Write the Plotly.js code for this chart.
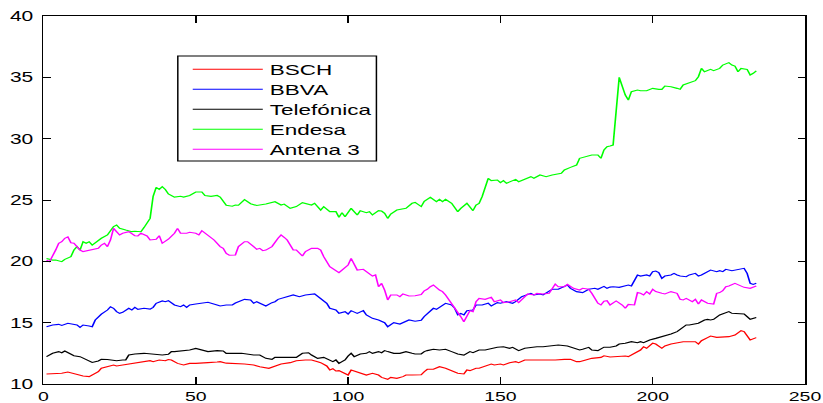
<!DOCTYPE html>
<html>
<head>
<meta charset="utf-8">
<script src="https://cdn.plot.ly/plotly-3.0.1.min.js"></script>
<style>
  html, body { margin: 0; padding: 0; background: #ffffff; overflow: hidden; }
  /* the figure is laid out narrow and widened horizontally, like the original export */
  #chart { width: 549px; height: 403px; transform: scaleX(1.4991); transform-origin: 0 0; }
</style>
</head>
<body>
<div id="chart"></div>
<script>
// Daily closing prices (trading day index -> price)
const bschDay = [1,4,6,8,11,13,15,16,18,19, 21,23,24,26,28,29,31,33,35,36, 38,40,41,42,44,46,48,50,52,54,
  57,58,60,63,66,69,71,74,76,78, 81,83,86,88,90,91,93,94,95,96, 97,99,100,101,103,105,106,108,110,111,
  113,114,116,118,119,121,122,124,125,126, 128,130,132,134,136,138,139,140,142,143, 145,147,148,150,151,153,155,156,158,160,
  162,165,168,171,173,175,176,178,180,183, 184,186,189,191,192,194,196,197,198,200, 201,203,204,206,208,210,212,214,215,216,
  218,219,221,223,225,227,228,229,230,231, 232,234];
const bsch = [10.82,10.87,10.87,10.98,10.8,10.65,10.6,10.73,11.0,11.28, 11.41,11.55,11.47,11.55,11.6,11.68,11.74,11.82,11.9,11.82,
  11.96,11.9,12.0,11.96,11.68,11.55,11.68,11.68,11.68,11.74, 11.79,11.82,11.7,11.68,11.63,11.55,11.41,11.28,11.47,11.63,
  11.74,11.9,11.96,11.96,11.82,11.74,11.47,11.14,11.25,11.06, 11.09,10.87,10.73,11.14,11.0,10.82,10.73,10.87,10.73,10.54,
  10.38,10.54,10.46,10.6,10.73,10.73,10.75,10.75,11.0,11.2, 11.2,11.41,11.28,11.09,10.87,10.82,11.14,11.09,11.28,11.28,
  11.47,11.63,11.55,11.63,11.55,11.74,11.82,11.74,11.96,11.96, 11.9,11.96,11.96,12.01,12.01,11.82,11.82,11.96,12.09,12.17,
  12.3,12.2,12.28,12.28,12.23,12.5,12.77,13.04,12.91,13.32, 13.26,12.91,13.1,13.26,13.37,13.45,13.45,13.45,13.26,13.53,
  13.78,13.91,13.8,13.86,13.86,13.99,14.18,14.35,14.27,13.86, 13.59,13.78];

const bbvaDay = [1,3,5,6,8,10,11,12,13,15, 16,17,19,21,22,23,24,25,26,28, 29,30,31,33,35,36,37,39,40,41,
  42,43,45,46,47,48,50,52,54,57, 58,60,62,63,64,66,68,69,70,72, 73,75,76,77,79,82,84,86,89,91,
  93,94,96,97,99,100,101,103,105,106, 108,110,111,112,113,115,117,118,120,122, 124,125,127,128,129,131,132,134,135,136,
  137,138,139,141,142,144,146,147,149,150, 152,154,155,157,159,160,161,163,164,166, 167,169,171,172,173,175,177,178,179,181,
  182,184,185,186,187,189,190,192,193,195, 196,198,199,200,201,202,203,204,206,207, 208,209,211,212,214,215,216,218,219,221,
  222,223,224,226,227,229,230,231,232,233, 234];
const bbva = [14.67,14.81,14.86,14.78,14.95,14.86,14.81,14.62,14.81,14.73, 14.67,15.22,15.7,16.03,16.3,16.17,15.9,15.76,15.84,16.17,
  16.03,16.25,16.09,16.17,16.11,16.25,16.58,16.77,16.71,16.79, 16.58,16.44,16.3,16.44,16.25,16.44,16.52,16.58,16.66,16.44,
  16.36,16.44,16.44,16.6,16.71,16.9,16.85,16.58,16.71,16.52, 16.36,16.63,16.71,16.9,17.07,17.26,17.12,17.26,17.34,16.98,
  16.58,16.17,16.03,15.76,15.9,15.71,15.98,15.76,15.98,15.63, 15.35,15.22,15.08,15.0,14.67,15.0,14.89,15.0,15.22,15.12,
  15.2,15.5,15.9,16.17,16.09,16.44,16.58,16.44,16.17,15.63, 15.76,15.63,15.98,16.03,16.44,16.44,16.58,16.36,16.63,16.58,
  16.71,16.58,16.71,17.12,17.34,17.39,17.26,17.34,17.26,17.53, 17.72,17.72,17.93,18.07,17.8,17.53,17.45,17.61,17.72,17.8,
  17.72,17.96,17.8,17.9,17.93,17.88,17.93,18.07,17.99,18.89, 18.8,18.89,18.8,19.16,19.21,19.08,18.61,18.8,18.89,19.02,
  18.89,18.8,18.75,18.89,19.02,18.8,18.89,19.16,19.29,19.16, 19.24,19.16,19.35,19.24,19.29,19.35,19.43,19.02,18.21,18.12,
  18.21];

const telefonicaDay = [1,3,5,6,7,9,10,12,14,16, 18,19,21,23,24,26,27,28,30,33, 35,37,39,41,42,43,46,48,50,52,
  54,57,59,60,61,63,65,69,71,73, 75,76,78,81,83,85,87,88,90,92, 94,95,96,97,98,99,100,101,102,104,
  106,107,108,110,111,112,113,115,117,119, 121,122,124,125,126,128,130,132,134,136, 138,140,141,143,145,147,149,151,153,154,
  156,158,160,162,164,166,169,172,174,176, 177,179,180,182,184,186,188,189,191,193, 195,196,197,199,201,202,204,206,208,210,
  211,212,214,215,217,218,219,220,222,224, 225,226,228,230,231,232,234];
const telefonica = [12.23,12.5,12.64,12.55,12.69,12.45,12.31,12.23,12.01,11.76, 11.88,12.01,12.0,11.96,11.9,11.96,11.96,12.36,12.45,12.5,
  12.45,12.42,12.36,12.42,12.64,12.64,12.72,12.77,12.9,12.77, 12.64,12.72,12.69,12.5,12.5,12.5,12.5,12.36,12.36,12.09,
  12.01,12.17,12.17,12.17,12.17,12.5,12.55,12.36,12.09,12.17, 11.9,11.82,11.96,11.68,11.82,11.96,12.28,12.5,12.23,12.45,
  12.5,12.64,12.5,12.64,12.55,12.72,12.64,12.5,12.5,12.64, 12.5,12.45,12.45,12.64,12.72,12.83,12.77,12.83,12.64,12.45,
  12.36,12.64,12.55,12.77,12.77,12.91,12.99,13.04,12.91,12.99, 12.72,12.91,12.99,13.04,13.04,13.1,13.18,13.1,12.91,12.77,
  12.83,12.99,12.77,12.72,13.0,13.0,13.1,13.26,13.32,13.45, 13.37,13.45,13.37,13.59,13.72,13.78,13.91,14.08,14.27,14.67,
  14.81,14.81,14.89,14.95,15.22,15.27,15.22,15.27,15.63,15.82, 15.9,15.76,15.76,15.71,15.49,15.27,15.43];

const endesaDay = [1,3,4,6,7,9,10,11,12,13, 14,15,16,18,19,21,22,23,24,25, 27,29,30,32,33,34,35,36,37,38,
  39,40,41,43,45,46,48,50,52,53, 55,57,58,60,62,63,64,66,68,70, 73,76,78,79,81,83,85,88,89,91,
  92,94,96,97,98,99,101,103,104,106, 107,108,110,111,112,113,114,116,118,119, 121,122,124,125,127,129,130,131,132,134,
  136,137,139,141,142,143,144,145,146,147, 149,150,151,152,154,155,156,159,160,161, 163,165,167,170,171,173,175,176,178,180,
  182,183,184,185,186,187,189,190,191,192, 193,195,196,198,200,202,203,204,206,208, 209,210,212,214,215,216,217,219,220,222,
  223,225,226,227,228,229,231,232,233,234];
const endesa = [20.24,20.1,20.1,19.97,20.16,20.38,20.92,21.2,20.92,21.6, 21.47,21.6,21.33,21.74,21.88,22.15,22.55,22.83,22.96,22.69,
  22.55,22.42,22.45,22.41,22.75,23.1,23.5,25.3,26.03,25.86, 26.08,25.86,25.5,25.24,25.3,25.24,25.37,25.65,25.65,25.37,
  25.3,25.37,25.24,24.57,24.49,24.59,24.57,25.03,24.7,24.55, 24.67,24.86,24.59,24.67,24.32,24.46,24.78,24.59,24.73,24.18,
  24.46,24.05,24.05,23.59,23.97,23.64,24.32,23.78,24.13,23.97, 24.05,23.78,24.13,24.1,23.91,23.5,23.86,24.18,24.27,24.32,
  24.73,24.8,24.46,24.9,25.22,24.86,25.05,24.86,25.05,24.73, 24.05,24.32,24.73,24.13,24.59,24.73,25.27,26.09,26.77,26.58,
  26.63,26.41,26.58,26.36,26.58,26.68,26.49,26.77,26.9,26.77, 27.04,26.9,27.04,27.17,27.45,27.66,27.85,28.4,28.53,28.67,
  28.67,28.4,29.08,29.35,29.4,29.48,35.0,34.24,33.56,33.15, 33.83,33.97,33.91,33.91,34.1,34.02,34.02,34.29,34.24,34.1,
  34.02,34.38,34.57,34.73,35.05,35.73,35.46,35.65,35.54,35.73, 36.0,36.2,36.0,35.92,35.46,35.73,35.65,35.19,35.33,35.52];

const antena3Day = [1,2,4,5,6,7,8,9,10,11, 12,13,15,16,18,19,20,21,22,23, 24,25,26,28,30,31,32,34,35,37,
  38,39,41,42,43,44,45,47,48,50, 51,52,54,56,58,59,60,61,63,64, 66,67,69,70,71,72,73,75,77,78,
  79,80,82,83,85,86,88,90,91,92, 94,95,97,98,100,101,102,103,105,106, 108,109,110,111,112,113,114,116,117,118,
  120,122,124,125,126,127,128,130,131,132, 134,136,137,138,139,140,141,142,143,145, 147,148,150,151,153,155,156,158,159,161,
  162,164,166,168,169,171,172,174,176,177, 179,180,182,183,184,185,186,188,190,191, 192,194,195,196,197,198,199,200,201,203,
  204,206,208,209,210,211,213,214,215,216, 218,220,221,222,223,224,225,227,229,230, 232,234];
const antena3 = [20.1,19.97,20.92,21.47,21.6,21.88,22.0,21.52,21.47,21.2, 20.92,20.79,20.92,20.98,21.06,21.33,21.47,21.2,21.74,22.69,
  22.42,22.15,22.29,22.42,22.09,22.07,22.29,22.07,21.74,21.8, 22.09,21.47,21.8,22.07,22.29,22.69,22.29,22.29,22.37,22.29,
  22.15,22.5,22.15,21.74,21.2,21.06,20.65,20.5,20.52,21.2, 21.6,21.6,21.2,20.98,21.06,20.87,20.92,21.2,21.88,22.15,
  21.96,21.74,20.92,20.92,20.43,20.79,21.06,21.06,20.92,20.38, 19.57,19.43,19.08,19.29,19.7,20.24,19.84,19.29,19.35,19.16,
  18.8,18.89,17.93,18.2,17.66,16.85,17.26,17.26,17.12,17.34, 17.17,17.2,17.3,17.6,17.72,17.93,18.07,17.66,17.53,17.26,
  16.58,15.9,15.49,15.08,15.49,15.98,15.9,16.71,16.98,16.9, 17.07,16.71,16.85,16.63,16.71,16.85,16.63,17.12,17.34,17.26,
  17.39,17.34,17.39,18.15,17.93,17.93,18.12,17.8,17.66,17.8, 17.72,17.39,16.58,16.44,16.75,16.79,16.44,16.77,16.44,16.17,
  16.49,16.44,17.45,17.39,17.26,17.53,17.34,17.72,17.53,17.39, 17.34,17.53,17.39,16.9,16.85,16.98,16.71,16.9,16.52,16.85,
  16.58,16.52,17.39,17.45,17.61,17.93,17.99,18.21,17.99,17.88, 17.8,17.99];

const seriesNames  = ['BSCH', 'BBVA', 'Telefónica', 'Endesa', 'Antena 3'];
const seriesColors = ['#ff0000', '#0000ff', '#000000', '#00ff00', '#ff00ff'];
const seriesDays   = [bschDay, bbvaDay, telefonicaDay, endesaDay, antena3Day];
const seriesValues = [bsch, bbva, telefonica, endesa, antena3];

const xTicks = [0, 50, 100, 150, 200, 250];
const yTicks = [10, 15, 20, 25, 30, 35, 40];

const FONT = 'Liberation Sans, Arial, Helvetica, sans-serif';

const traces = seriesNames.map((name, i) => ({
  type: 'scatter',
  mode: 'lines',
  name: name,
  x: seriesDays[i],
  y: seriesValues[i],
  line: { color: seriesColors[i], width: 1.1 },
  showlegend: false,
  hoverinfo: 'skip'
}));

// boxed legend placed inside the axes, in data units
const legendBox = { x0: 44.1, x1: 109.3, y0: 28.17, y1: 36.73 };
const legendLine = { x0: 49, x1: 72, textX: 73.3, firstY: 35.65, step: 1.63 };

const shapes = [{
  type: 'rect', xref: 'x', yref: 'y', layer: 'above',
  x0: legendBox.x0, x1: legendBox.x1, y0: legendBox.y0, y1: legendBox.y1,
  line: { color: '#000000', width: 1 }, fillcolor: '#ffffff'
}];
const annotations = [];
seriesNames.forEach((name, i) => {
  const y = legendLine.firstY - i * legendLine.step;
  shapes.push({
    type: 'line', xref: 'x', yref: 'y', layer: 'above',
    x0: legendLine.x0, x1: legendLine.x1, y0: y, y1: y,
    line: { color: seriesColors[i], width: 1 }
  });
  annotations.push({
    xref: 'x', yref: 'y', x: legendLine.textX, y: y,
    xanchor: 'left', yanchor: 'middle', showarrow: false,
    text: name, font: { family: FONT, size: 15, color: '#000000' }
  });
});

const axisCommon = {
  showgrid: false, zeroline: false,
  showline: true, linecolor: '#000000', linewidth: 1, mirror: 'ticks',
  ticks: 'inside', tickwidth: 1, tickcolor: '#000000',
  fixedrange: true
};

const layout = {
  width: 549, height: 403,
  margin: { l: 29, r: 12, t: 16, b: 19, pad: 0 },
  paper_bgcolor: '#ffffff', plot_bgcolor: '#ffffff',
  showlegend: false,
  xaxis: Object.assign({}, axisCommon, {
    range: [0, 250], tickmode: 'array', tickvals: xTicks, ticktext: xTicks.map(String),
    ticklen: 7, ticklabelstandoff: 0,
    tickfont: { family: FONT, size: 13, color: '#000000' }
  }),
  yaxis: Object.assign({}, axisCommon, {
    range: [10, 40], tickmode: 'array', tickvals: yTicks, ticktext: yTicks.map(String),
    ticklen: 5, ticklabelstandoff: 3,
    tickfont: { family: FONT, size: 14, color: '#000000' }
  }),
  shapes: shapes,
  annotations: annotations
};

Plotly.newPlot('chart', traces, layout, { staticPlot: true, displayModeBar: false });
</script>
</body>
</html>
